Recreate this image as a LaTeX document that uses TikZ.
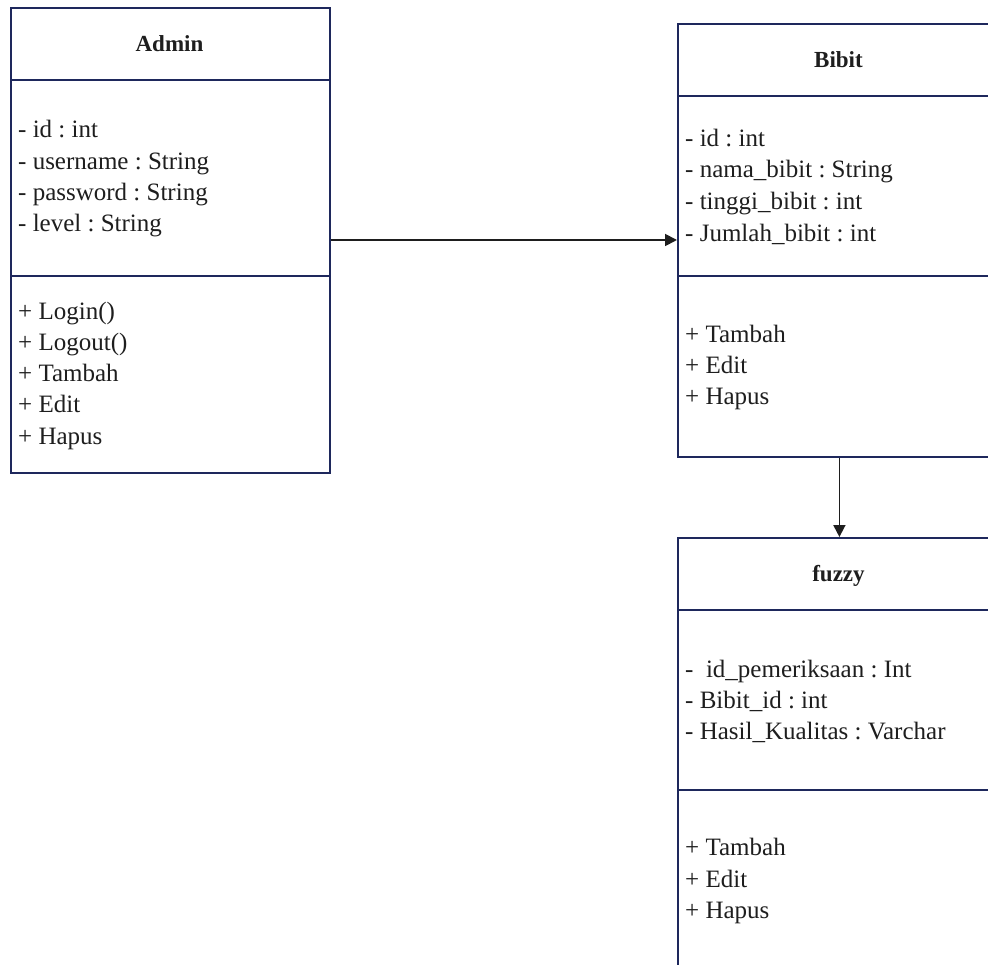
\documentclass[tikz,border=0pt]{standalone}
\usepackage{fontspec}
\setmainfont{Liberation Serif}
\usetikzlibrary{arrows.meta}
\definecolor{boxnavy}{RGB}{30,40,92}
\definecolor{inkgray}{RGB}{30,30,30}
\frenchspacing
\tikzset{
  classbox/.style={draw=boxnavy, line width=1.8pt, rectangle, inner sep=0pt, fill=white},
  classline/.style={draw=boxnavy, line width=1.8pt},
  classtitle/.style={inner sep=0pt, anchor=base, text=inkgray, font=\fontsize{23}{26}\selectfont\bfseries},
  member/.style={inner sep=0pt, anchor=base west, text=inkgray, font=\fontsize{25}{30}\selectfont},
  assoc/.style={draw=inkgray, line width=1.8pt, -{Triangle[length=12pt,width=12pt]}}
}
\begin{document}
\begin{tikzpicture}[x=1pt,y=-1pt]
\useasboundingbox (0,0) rectangle (988,965);
\clip (0,0) rectangle (988,965);

% class boxes
\node[classbox, minimum width=319pt, minimum height=465pt, anchor=north west] (admin) at (10,7) {};
\node[classbox, minimum width=323pt, minimum height=433pt, anchor=north west] (bibit) at (677,23) {};
\node[classbox, minimum width=323pt, minimum height=450pt, anchor=north west] (fuzzy) at (677,537) {};

% compartment dividers
\draw[classline] (admin.west |- 0,80) -- (admin.east |- 0,80);
\draw[classline] (admin.west |- 0,276) -- (admin.east |- 0,276);
\draw[classline] (bibit.west |- 0,96) -- (bibit.east |- 0,96);
\draw[classline] (bibit.west |- 0,276) -- (bibit.east |- 0,276);
\draw[classline] (fuzzy.west |- 0,610) -- (fuzzy.east |- 0,610);
\draw[classline] (fuzzy.west |- 0,790) -- (fuzzy.east |- 0,790);

% Admin
\node[classtitle] (admintitle) at (169.5,52) {Admin};
\node[member] (a1) at (18,138) {- id : int};
\node[member] (a2) at (18,170) {- username : String};
\node[member] (a3) at (18,201) {- password : String};
\node[member] (a4) at (18,232) {- level : String};
\node[member] (am1) at (18,320) {+ Login()};
\node[member] (am2) at (18,351) {+ Logout()};
\node[member] (am3) at (18,382) {+ Tambah};
\node[member] (am4) at (18,413) {+ Edit};
\node[member] (am5) at (18,445) {+ Hapus};

% Bibit
\node[classtitle] (bibittitle) at (838.5,68) {Bibit};
\node[member] (b1) at (685,147) {- id : int};
\node[member] (b2) at (685,178) {- nama\_bibit : String};
\node[member] (b3) at (685,210) {- tinggi\_bibit : int};
\node[member] (b4) at (685,242) {- Jumlah\_bibit : int};
\node[member] (bm1) at (685,343) {+ Tambah};
\node[member] (bm2) at (685,374) {+ Edit};
\node[member] (bm3) at (685,405) {+ Hapus};

% fuzzy
\node[classtitle] (fuzzytitle) at (838.5,581) {fuzzy};
\node[member] (f1) at (685,677) {-\ \ id\_pemeriksaan : Int};
\node[member] (f2) at (685,708) {- Bibit\_id : int};
\node[member] (f3) at (685,739) {- Hasil\_Kualitas : Varchar};
\node[member] (fm1) at (685,855) {+ Tambah};
\node[member] (fm2) at (685,887) {+ Edit};
\node[member] (fm3) at (685,918) {+ Hapus};

% associations
\draw[assoc] (admin.east |- 0,240) -- (bibit.west |- 0,240);
\draw[assoc] (bibit.south) -- (fuzzy.north);
\end{tikzpicture}
\end{document}
